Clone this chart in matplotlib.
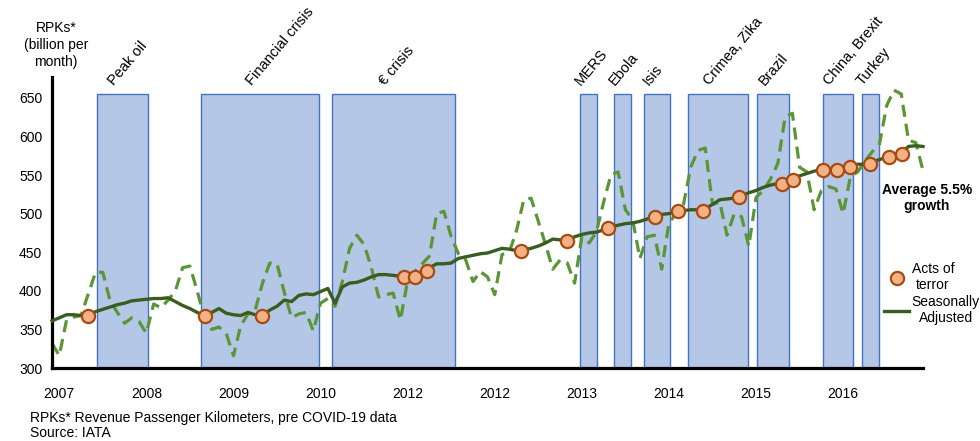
import numpy as np
import matplotlib
matplotlib.use("Agg")
import matplotlib.pyplot as plt
from matplotlib.lines import Line2D

plt.rcParams['font.family'] = ['Liberation Sans', 'DejaVu Sans']

# monthly RPKs (billion), month 0 = Jan 2007
rpk_actual = [332, 316, 362, 366, 368, 396, 424, 424, 387, 372,
              358, 365, 360, 345, 383, 378, 388, 400, 430, 432,
              400, 365, 350, 353, 345, 316, 355, 370, 375, 410,
              436, 435, 398, 365, 370, 372, 348, 384, 390, 380,
              412, 455, 472, 460, 430, 392, 395, 397, 362, 413,
              425, 435, 445, 500, 503, 470, 448, 440, 412, 425,
              418, 395, 447, 450, 478, 518, 520, 490, 460, 428,
              440, 436, 410, 470, 462, 476, 515, 550, 554, 505,
              492, 442, 470, 472, 428, 488, 500, 512, 560, 582,
              585, 512, 515, 472, 500, 496, 458, 521, 530, 545,
              565, 625, 630, 560, 554, 505, 530, 535, 532, 500,
              548, 554, 568, 580, 590, 640, 660, 655, 595, 592,
              556]
rpk_sa = [361, 365, 369, 369, 368, 368, 373, 376, 379, 382,
          384, 387, 388, 389, 390, 390, 391, 386, 381, 377,
          372, 368, 372, 377, 371, 369, 368, 372, 369, 368,
          375, 380, 388, 386, 394, 396, 395, 399, 403, 384,
          405, 410, 411, 414, 418, 421, 421, 420, 419, 418,
          418, 423, 430, 435, 435, 436, 442, 444, 446, 448,
          449, 452, 455, 454, 452, 453, 455, 458, 462, 467,
          466, 465, 470, 473, 475, 476, 479, 483, 485, 487,
          488, 490, 493, 496, 499, 500, 502, 504, 505, 505,
          506, 512, 518, 519, 520, 523, 527, 530, 534, 537,
          539, 540, 543, 549, 552, 555, 557, 558, 557, 560,
          562, 564, 564, 567, 570, 573, 575, 578, 587, 588,
          587]
months = np.arange(len(rpk_actual))

# acts of terror (month, value)
terror_month = [5.0, 21.1, 28.9, 48.5, 50.0, 51.7, 64.6, 70.9, 76.6, 83.1,
                86.2, 89.7, 94.6, 100.6, 102.1, 106.2, 108.1, 109.9, 112.7,
                115.3, 117.1]
terror_value = [368, 368, 368, 418, 418, 426, 452, 464, 482, 496,
                503, 504, 521, 538, 543, 557, 556, 561, 564, 573, 577]

# shaded events (start month, end month)
event_names = ['Peak oil', 'Financial crisis', '€ crisis', 'MERS', 'Ebola',
               'Isis', 'Crimea, Zika', 'Brazil', 'China, Brexit', 'Turkey']
event_start = [6.2, 20.5, 38.6, 72.7, 77.4, 81.5, 87.6, 97.1, 106.2, 111.6]
event_end = [13.2, 36.8, 55.5, 75.1, 79.8, 85.1, 95.9, 101.5, 110.3, 114.0]
event_top = 655

tick_pos = [1, 13, 25, 37, 49, 61, 73, 85, 97, 109]
tick_labels = ['2007', '2008', '2009', '2010', '2012', '2012', '2013',
               '2014', '2015', '2016']

fig = plt.figure(figsize=(9.8, 4.41), dpi=100)
ax = fig.add_axes([52/980, 1-368/441, 871/980, 291/441])

widths = [e - s for s, e in zip(event_start, event_end)]
ax.bar(event_start, [event_top - 300]*len(widths), width=widths, bottom=300,
       align='edge', color='#b4c7e7', edgecolor='#4472c4', linewidth=1, zorder=1)
for name, s, e in zip(event_names, event_start, event_end):
    ax.text((s + e)/2 - 0.8, event_top + 8, name, rotation=50, rotation_mode='anchor',
            ha='left', va='bottom', fontsize=10.5, clip_on=False)

ax.plot(months, rpk_actual, color='#5a9536', linewidth=2.3, linestyle=(0, (3.8, 2.2)),
        zorder=2, clip_on=False)
ax.plot(months, rpk_sa, color='#385d1f', linewidth=2.4, zorder=3, clip_on=False)
ax.plot(terror_month, terror_value, 'o', markersize=9.5, markerfacecolor='#f4b183',
        markeredgecolor='#a54b14', markeredgewidth=1.6, zorder=4, clip_on=False)

ax.set_xlim(0, 120)
ax.set_ylim(300, 677)
ax.set_yticks([300, 350, 400, 450, 500, 550, 600, 650])
ax.set_xticks(tick_pos)
ax.set_xticklabels(tick_labels)
ax.tick_params(axis='both', length=0, labelsize=10)
ax.tick_params(axis='x', pad=14)
ax.tick_params(axis='y', pad=7)
for sp in ['top', 'right']:
    ax.spines[sp].set_visible(False)
for sp in ['left', 'bottom']:
    ax.spines[sp].set_linewidth(2.3)

fig.text(56/980, 1-45/441, 'RPKs*\n(billion per\nmonth)', ha='center', va='center',
         fontsize=10, linespacing=1.25)
fig.text(927/980, 1-198/441, 'Average 5.5%\ngrowth', ha='center', va='center',
         fontsize=10, fontweight='bold', linespacing=1.15)

handles = [Line2D([], [], marker='o', linestyle='none', markersize=9.5,
                  markerfacecolor='#f4b183', markeredgecolor='#a54b14', markeredgewidth=1.6),
           Line2D([], [], color='#385d1f', linewidth=2.4)]
leg = ax.legend(handles, ['Acts of\nterror', 'Seasonally\nAdjusted'], loc='upper left',
                bbox_to_anchor=(884/980, 1-262/441), bbox_transform=fig.transFigure,
                frameon=False, fontsize=10, handlelength=1.8, handletextpad=0.2,
                borderpad=0, borderaxespad=0, labelspacing=0.2)
for t in leg.get_texts():
    t.set_multialignment('center')

fig.text(30/980, 1-418/441, 'RPKs* Revenue Passenger Kilometers, pre COVID-19 data',
         ha='left', va='center', fontsize=10)
fig.text(30/980, 1-433/441, 'Source: IATA', ha='left', va='center', fontsize=10)

fig.savefig('out.png', dpi=100)
